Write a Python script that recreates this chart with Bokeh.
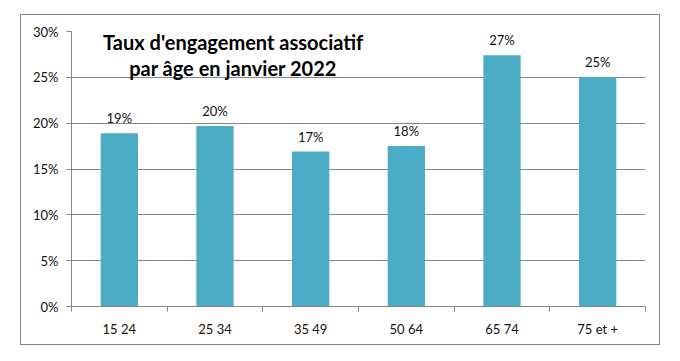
from bokeh.plotting import figure
from bokeh.models import FixedTicker, PrintfTickFormatter, Label, ColumnDataSource, Range1d, Spacer
from bokeh.layouts import column, row
from bokeh.core.properties import value
from bokeh.embed import file_html
from bokeh.resources import INLINE

categories = ["15 24", "25 34", "35 49", "50 64", "65 74", "75 et +"]
rates = [18.9, 19.7, 16.9, 17.5, 27.4, 25.0]
rate_labels = ["19%", "20%", "17%", "18%", "27%", "25%"]
y_ticks = [0, 5, 10, 15, 20, 25, 30]
title_lines = ["Taux d'engagement associatif", "par âge en janvier 2022"]

FONT = "Lato"
BAR = "#4BACC6"
GRID = "#868686"

xs = [i + 0.5 for i in range(len(categories))]
src = ColumnDataSource(dict(x=xs, y=rates, lab=rate_labels))

p = figure(width=640, height=331, output_backend="svg", toolbar_location=None,
           x_range=Range1d(0, len(categories)), y_range=Range1d(0, 30),
           min_border_left=50, min_border_right=16, min_border_top=16, min_border_bottom=40)
p.styles = {"border": "1px solid #868686", "box-sizing": "border-box"}
p.outline_line_color = None
p.background_fill_color = "white"
p.border_fill_color = "white"

p.vbar(x="x", top="y", width=0.39, bottom=0, source=src, fill_color=BAR, line_color=None)
p.text(x="x", y="y", text="lab", source=src, text_align="center", text_baseline="bottom",
       y_offset=-7, text_font=value(FONT), text_font_size="13px", text_color="#111")

# axes
p.xgrid.grid_line_color = None
p.ygrid.grid_line_color = GRID
p.ygrid.ticker = FixedTicker(ticks=y_ticks)

ya = p.yaxis[0]
ya.ticker = FixedTicker(ticks=y_ticks)
ya.formatter = PrintfTickFormatter(format="%d%%")
ya.axis_line_color = GRID
ya.major_tick_line_color = GRID
ya.major_tick_out = 5
ya.major_tick_in = 0
ya.minor_tick_line_color = None
ya.major_label_standoff = 8
ya.major_label_text_font = FONT
ya.major_label_text_font_size = "13px"
ya.major_label_text_color = "#111"

xa = p.xaxis[0]
xa.ticker = FixedTicker(ticks=xs, minor_ticks=list(range(len(categories) + 1)))
xa.major_label_overrides = {x: c for x, c in zip(xs, categories)}
xa.axis_line_color = GRID
xa.major_tick_line_color = None
xa.minor_tick_line_color = GRID
xa.minor_tick_out = 5
xa.minor_tick_in = 0
xa.major_tick_out = 5
xa.major_tick_in = 0
xa.major_label_standoff = 9
xa.major_label_text_font = FONT
xa.major_label_text_font_size = "13px"
xa.major_label_text_color = "#111"

for txt, yy in zip(title_lines, [28.85, 26.0]):
    p.add_layout(Label(x=1.69, y=yy, text=txt, text_align="center", text_baseline="middle",
                       text_font=FONT, text_font_style="bold", text_font_size="20px",
                       text_color="#000"))

layout = column(Spacer(height=14, width=10), row(Spacer(width=20, height=10), p))
open("out.html", "w").write(file_html(layout, INLINE))
